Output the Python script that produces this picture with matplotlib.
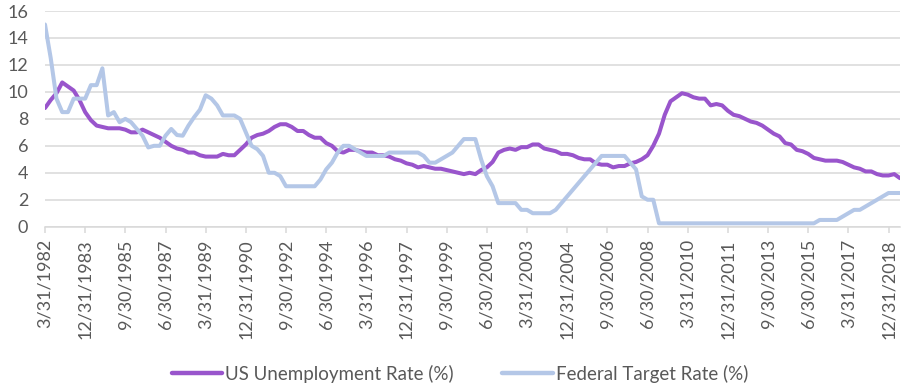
import matplotlib
matplotlib.use("Agg")
import matplotlib.pyplot as plt
from matplotlib.lines import Line2D

plt.rcParams['font.family'] = ['Lato', 'DejaVu Sans']

# Quarterly data, 3/31/1982 .. 6/30/2019
unemployment = [
    8.8, 9.4, 9.9, 10.7, 10.4, 10.1, 9.4, 8.5,
    7.9, 7.5, 7.4, 7.3, 7.3, 7.3, 7.2, 7.0,
    7.0, 7.2, 7.0, 6.8, 6.6, 6.3, 6.0, 5.8,
    5.7, 5.5, 5.5, 5.3, 5.2, 5.2, 5.2, 5.4,
    5.3, 5.3, 5.7, 6.1, 6.6, 6.8, 6.9, 7.1,
    7.4, 7.6, 7.6, 7.4, 7.1, 7.1, 6.8, 6.6,
    6.6, 6.2, 6.0, 5.6, 5.5, 5.7, 5.7, 5.6,
    5.5, 5.5, 5.3, 5.3, 5.2, 5.0, 4.9, 4.7,
    4.6, 4.4, 4.5, 4.4, 4.3, 4.3, 4.2, 4.1,
    4.0, 3.9, 4.0, 3.9, 4.2, 4.4, 4.8, 5.5,
    5.7, 5.8, 5.7, 5.9, 5.9, 6.1, 6.1, 5.8,
    5.7, 5.6, 5.4, 5.4, 5.3, 5.1, 5.0, 5.0,
    4.7, 4.6, 4.6, 4.4, 4.5, 4.5, 4.7, 4.8,
    5.0, 5.3, 6.0, 6.9, 8.3, 9.3, 9.6, 9.9,
    9.8, 9.6, 9.5, 9.5, 9.0, 9.1, 9.0, 8.6,
    8.3, 8.2, 8.0, 7.8, 7.7, 7.5, 7.2, 6.9,
    6.7, 6.2, 6.1, 5.7, 5.6, 5.4, 5.1, 5.0,
    4.9, 4.9, 4.9, 4.8, 4.6, 4.4, 4.3, 4.1,
    4.1, 3.9, 3.8, 3.8, 3.9, 3.6,
]

fed_rate = [
    15.0, 12.5, 9.5, 8.5, 8.5, 9.5, 9.5, 9.5,
    10.5, 10.5, 11.75, 8.25, 8.5, 7.75, 8.0, 7.75,
    7.25, 6.75, 5.88, 6.0, 6.0, 6.75, 7.25, 6.8,
    6.75, 7.5, 8.13, 8.68, 9.75, 9.5, 9.0, 8.25,
    8.25, 8.25, 8.0, 7.0, 6.0, 5.75, 5.25, 4.0,
    4.0, 3.75, 3.0, 3.0, 3.0, 3.0, 3.0, 3.0,
    3.5, 4.25, 4.75, 5.5, 6.0, 6.0, 5.75, 5.5,
    5.25, 5.25, 5.25, 5.25, 5.5, 5.5, 5.5, 5.5,
    5.5, 5.5, 5.25, 4.75, 4.75, 5.0, 5.25, 5.5,
    6.0, 6.5, 6.5, 6.5, 5.0, 3.75, 3.0, 1.75,
    1.75, 1.75, 1.75, 1.25, 1.25, 1.0, 1.0, 1.0,
    1.0, 1.25, 1.75, 2.25, 2.75, 3.25, 3.75, 4.25,
    4.75, 5.25, 5.25, 5.25, 5.25, 5.25, 4.75, 4.25,
    2.25, 2.0, 2.0, 0.25, 0.25, 0.25, 0.25, 0.25,
    0.25, 0.25, 0.25, 0.25, 0.25, 0.25, 0.25, 0.25,
    0.25, 0.25, 0.25, 0.25, 0.25, 0.25, 0.25, 0.25,
    0.25, 0.25, 0.25, 0.25, 0.25, 0.25, 0.25, 0.5,
    0.5, 0.5, 0.5, 0.75, 1.0, 1.25, 1.25, 1.5,
    1.75, 2.0, 2.25, 2.5, 2.5, 2.5,
]

tick_labels = [
    "3/31/1982", "12/31/1983", "9/30/1985", "6/30/1987", "3/31/1989",
    "12/31/1990", "9/30/1992", "6/30/1994", "3/31/1996", "12/31/1997",
    "9/30/1999", "6/30/2001", "3/31/2003", "12/31/2004", "9/30/2006",
    "6/30/2008", "3/31/2010", "12/31/2011", "9/30/2013", "6/30/2015",
    "3/31/2017", "12/31/2018",
]
tick_step = 7
y_ticks = [0, 2, 4, 6, 8, 10, 12, 14, 16]

PURPLE = "#9955CC"
BLUE = "#B4C7E7"
GRID = "#D9D9D9"
TXT = "#595959"

W, H = 916, 387
fig = plt.figure(figsize=(W / 100, H / 100), dpi=100)
ax = fig.add_axes([45 / W, 1 - 226.7 / H, (900 - 45) / W, (226.7 - 11) / H])

x = list(range(len(unemployment)))
ax.plot(x, unemployment, color=PURPLE, lw=2.9, solid_joinstyle='round',
        solid_capstyle='round', zorder=3)
ax.plot(x, fed_rate, color=BLUE, lw=2.9, solid_joinstyle='round',
        solid_capstyle='round', zorder=4)

ax.set_xlim(0, len(unemployment) - 1)
ax.set_ylim(0, 16)
ax.set_yticks(y_ticks)
ax.set_yticklabels([str(v) for v in y_ticks])
ax.yaxis.grid(True, color=GRID, lw=1.1)
ax.set_axisbelow(True)

ax.set_xticks([i * tick_step for i in range(len(tick_labels))])
ax.set_xticklabels(tick_labels, rotation=90, va='top', ha='center')

for s in ['top', 'right', 'left']:
    ax.spines[s].set_visible(False)
ax.spines['bottom'].set_color(GRID)
ax.spines['bottom'].set_linewidth(1.1)

ax.tick_params(axis='y', length=0, pad=12, labelsize=13, labelcolor=TXT)
ax.tick_params(axis='x', length=4, width=1.1, color=GRID, pad=5,
               labelsize=13, labelcolor=TXT)

handles = [Line2D([], [], color=PURPLE, lw=3.2, solid_capstyle='round'),
           Line2D([], [], color=BLUE, lw=3.2, solid_capstyle='round')]
fig.legend(handles, ["US Unemployment Rate (%)", "Federal Target Rate (%)"],
           loc='center', bbox_to_anchor=(0.502, 1 - 374 / H), ncol=2,
           frameon=False, fontsize=13.5, labelcolor=TXT, handlelength=2.7,
           handletextpad=0.15, columnspacing=2.6)

fig.savefig("out.png", dpi=100)
